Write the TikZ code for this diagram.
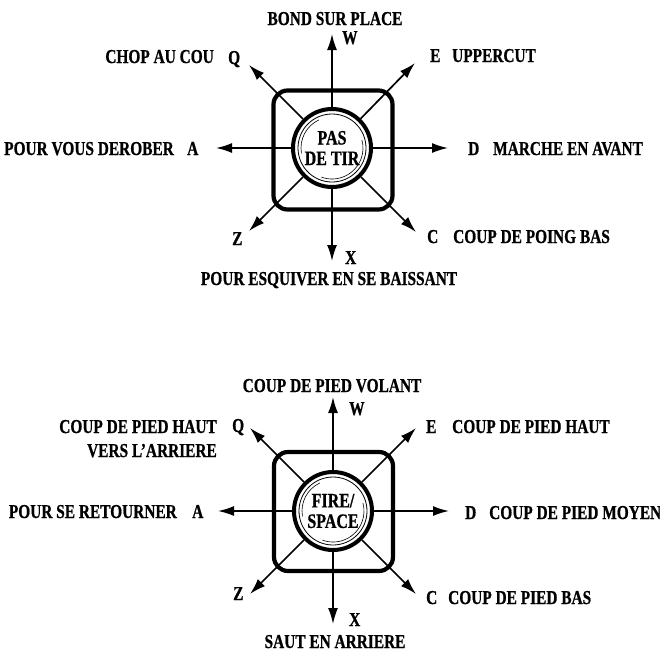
\documentclass[tikz,border=0pt]{standalone}
\usepackage{fontspec}
\setmainfont{Liberation Serif}[FakeStretch=0.78, FakeBold=0.8]
\usetikzlibrary{arrows.meta}
\begin{document}
\begin{tikzpicture}[x=1pt,y=-1pt,
  lab/.style={font=\fontsize{19.7}{21}\selectfont\bfseries, inner sep=0pt, anchor=base},
  labw/.style={lab, anchor=base west},
  labe/.style={lab, anchor=base east},
  arr/.style={line width=1.7pt, -{Latex[length=16pt,width=10pt]}},
  pad/.style={draw, line width=4.2pt, rounded corners=14pt, minimum size=119pt, inner sep=0pt},
  knob/.style={circle, draw, fill=white, line width=4pt, minimum size=78pt, inner sep=0pt,
    align=center, font=\fontsize{20.5}{20.5}\selectfont\bfseries},
  ring/.style={line width=0.8pt},
  glint/.style={line width=0.6pt}]
\useasboundingbox (0,0) rectangle (660,651);

% ---------- top diagram ----------
\node[pad] (s1) at (333,150) {};
\coordinate (w1) at (332,34);
\coordinate (x1) at (332,261);
\coordinate (a1) at (216,148);
\coordinate (d1) at (448,148);
\coordinate (q1) at (249,65);
\coordinate (e1) at (415,63);
\coordinate (z1) at (249,231);
\coordinate (c1) at (416,232);
\node[knob] (k1) at (332,148) {PAS\\DE TIR};
\foreach \t in {w1,x1,a1,d1,q1,e1,z1,c1} \draw[arr] (k1) -- (\t);
\draw[ring] (k1.center) circle[radius=34pt];
\draw[glint] ([shift={(115:31pt)}]k1.center) arc[start angle=115,end angle=190,radius=31pt];
\draw[glint] ([shift={(-110:31pt)}]k1.center) arc[start angle=-110,end angle=15,radius=31pt];

\node[lab]  (t1) at (335,25) {BOND SUR PLACE};
\node[labw] (lw1) at (342,44) {W};
\node[labw] (lq1) at (228,64) {Q};
\node[labe] (tq1) at (214,63) {CHOP AU COU};
\node[labw] (le1) at (430,62) {E};
\node[labw] (te1) at (452,62) {UPPERCUT};
\node[labe] (ta1) at (174,155) {POUR VOUS DEROBER};
\node[labw] (la1) at (187,155) {A};
\node[labw] (ld1) at (468,155) {D};
\node[labw] (td1) at (493,155) {MARCHE EN AVANT};
\node[labw] (lz1) at (232,245) {Z};
\node[labw] (lc1) at (427,243) {C};
\node[labw] (tc1) at (453,243) {COUP DE POING BAS};
\node[labw] (lx1) at (345,264) {X};
\node[lab]  (tx1) at (329,285) {POUR ESQUIVER EN SE BAISSANT};

% ---------- bottom diagram ----------
\node[pad] (s2) at (333.5,511.5) {};
\coordinate (w2) at (333,397);
\coordinate (x2) at (333,624);
\coordinate (a2) at (218,511);
\coordinate (d2) at (449,511);
\coordinate (q2) at (250,428);
\coordinate (e2) at (416,428);
\coordinate (z2) at (250,594);
\coordinate (c2) at (416,594);
\node[knob] (k2) at (333,511) {FIRE/\\SPACE};
\foreach \t in {w2,x2,a2,d2,q2,e2,z2,c2} \draw[arr] (k2) -- (\t);
\draw[ring] (k2.center) circle[radius=34pt];
\draw[glint] ([shift={(115:31pt)}]k2.center) arc[start angle=115,end angle=190,radius=31pt];
\draw[glint] ([shift={(-110:31pt)}]k2.center) arc[start angle=-110,end angle=15,radius=31pt];

\node[lab]  (t2) at (332,392) {COUP DE PIED VOLANT};
\node[labw] (lw2) at (349,415) {W};
\node[labw] (lq2) at (232,432) {Q};
\node[labe] (tq2) at (217,433) {COUP DE PIED HAUT};
\node[labe] (tq2b) at (217,457) {VERS L’ARRIERE};
\node[labw] (le2) at (426,433) {E};
\node[labw] (te2) at (452,433) {COUP DE PIED HAUT};
\node[labe] (ta2) at (177,518) {POUR SE RETOURNER};
\node[labw] (la2) at (192,518) {A};
\node[labw] (ld2) at (465,519) {D};
\node[labw] (td2) at (489,519) {COUP DE PIED MOYEN};
\node[labw] (lz2) at (233,600) {Z};
\node[labw] (lc2) at (426,604) {C};
\node[labw] (tc2) at (448,604) {COUP DE PIED BAS};
\node[labw] (lx2) at (349,626) {X};
\node[lab]  (tx2) at (335,648) {SAUT EN ARRIERE};
\end{tikzpicture}
\end{document}
